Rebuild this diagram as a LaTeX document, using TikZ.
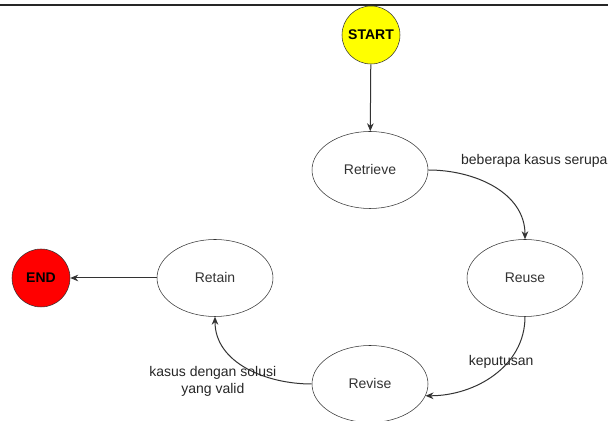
\documentclass[tikz,border=0pt]{standalone}
\usepackage{fontspec}
\setmainfont{Liberation Sans}
\usepackage{xcolor}
\definecolor{colStart}{HTML}{FFFF00}
\definecolor{colEnd}{HTML}{FF0000}
\definecolor{colLine}{HTML}{333333}
\usetikzlibrary{arrows.meta, positioning, shapes.geometric}
\tikzset{
    phase/.style={
        draw=colLine, ellipse, fill=white,
        inner sep=0pt,
        minimum width=87pt, minimum height=57.75pt,
        text=colLine,
        font=\fontsize{10.5}{12.5}\selectfont
    },
    terminal/.style={
        draw=colLine, circle, fill=#1,
        inner sep=0pt, minimum size=43.5pt,
        font=\bfseries\fontsize{10.5}{12.5}\selectfont
    },
    terminal/.default=colStart,
    flow/.style={-{Stealth[length=6pt, width=5pt]}, color=colLine, line width=0.75pt},
    flowlbl/.style={text=black!85, align=center, font=\fontsize{10.5}{12.5}\selectfont},
}

\begin{document}
\begin{tikzpicture}[x=0.75pt, y=0.75pt]
    \useasboundingbox (0,0) rectangle (608,421);
    \draw[line width=1.5pt, black!85] (0,416) -- (608,416);

    \node[terminal=colStart] (start) at (371,386) {START};
    \node[phase] (retrieve) at (370,251) {Retrieve};
    \node[phase] (reuse) at (525,143) {Reuse};
    \node[phase] (revise) at (370,37) {Revise};
    \node[phase] (retain) at (215,143) {Retain};
    \node[terminal=colEnd] (end) at (41,143) {END};

    \draw[flow] (start) -- (retrieve);

    % siklus CBR
    \draw[flow] (retrieve.east) to[out=0, in=90]
          node[flowlbl, pos=0.2, above right] {beberapa kasus serupa} (reuse.north);
    \draw[flow] (reuse.south) to[out=-90, in=0]
          node[flowlbl, pos=0.33, xshift=-7pt, yshift=-2pt] {keputusan} (revise.-12);
    \draw[flow] (revise.west) to[out=180, in=-90]
          node[flowlbl, pos=0.5, xshift=-25pt, yshift=-10.5pt] {kasus dengan solusi\\yang valid} (retain.south);

    \draw[flow] (retain) -- (end);
\end{tikzpicture}
\end{document}
